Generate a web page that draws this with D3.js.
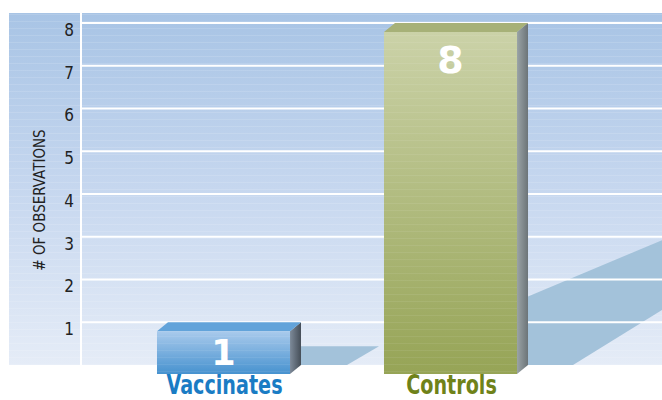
<!DOCTYPE html>
<html>
<head>
<meta charset="utf-8">
<script src="https://cdn.jsdelivr.net/npm/d3@7"></script>
<style>
  html, body { margin: 0; padding: 0; background: #ffffff; }
  svg { display: block; }
</style>
</head>
<body>
<div id="chart"></div>
<script>
// ---- data ----
const categories = ["Vaccinates", "Controls"];
const values = [1, 8];
const yTicks = [1, 2, 3, 4, 5, 6, 7, 8];
const yAxisTitle = "# OF OBSERVATIONS";
const labelColors = ["#1a7cc4", "#6f8219"];
// per-bar gradient colours: [front top, front bottom, top face, side light, side dark]
const barColors = [
  ["#a9caec", "#4792cf", "#62a3da", "#7d8a99", "#454e58"],
  ["#cbd2a8", "#96a456", "#a7b178", "#9aa3a6", "#6c7478"]
];

const W = 662, H = 400;
const panel = { left: 9, strip: 80, plotLeft: 82, right: 662, top: 13, bottom: 365 };
const depth = { dx: 11, dy: 9 };
const condensed = "'DejaVu Sans Condensed', 'Liberation Sans Narrow', 'DejaVu Sans', sans-serif";

const svg = d3.select("#chart").append("svg")
  .attr("width", W).attr("height", H)
  .style("font-family", condensed);

const y = d3.scaleLinear().domain([0, 8]).range([panel.bottom, 23]);
const x = d3.scaleBand().domain(categories).range([110, 564])
  .paddingInner(0.414).paddingOuter(0.207);

const defs = svg.append("defs");
const bg = defs.append("linearGradient").attr("id", "bg")
  .attr("gradientUnits", "userSpaceOnUse")
  .attr("x1", 0).attr("y1", panel.top).attr("x2", 0).attr("y2", panel.bottom);
bg.append("stop").attr("offset", 0).attr("stop-color", "#a8c4e5");
bg.append("stop").attr("offset", 0.5).attr("stop-color", "#c6d7ef");
bg.append("stop").attr("offset", 1).attr("stop-color", "#e5ecf7");

barColors.forEach((c, i) => {
  const f = defs.append("linearGradient").attr("id", "front" + i)
    .attr("x1", 0).attr("y1", 0).attr("x2", 0).attr("y2", 1);
  f.append("stop").attr("offset", 0).attr("stop-color", c[0]);
  f.append("stop").attr("offset", 1).attr("stop-color", c[1]);
  const s = defs.append("linearGradient").attr("id", "side" + i)
    .attr("x1", 0).attr("y1", 0).attr("x2", 1).attr("y2", 0);
  s.append("stop").attr("offset", 0).attr("stop-color", c[3]);
  s.append("stop").attr("offset", 1).attr("stop-color", c[4]);
});

// faint stripe patterns
function stripes(id, op) {
  const pat = defs.append("pattern").attr("id", id)
    .attr("patternUnits", "userSpaceOnUse").attr("width", 8).attr("height", 7);
  pat.append("rect").attr("x", 0).attr("y", 0).attr("width", 8).attr("height", 1)
    .attr("fill", "#ffffff").attr("opacity", op);
}
stripes("stripesBg", 0.12);
stripes("stripesBar", 0.07);

// clip for panel
defs.append("clipPath").attr("id", "panelClip").append("rect")
  .attr("x", panel.plotLeft).attr("y", panel.top)
  .attr("width", panel.right - panel.plotLeft).attr("height", panel.bottom - panel.top);

// background panels
svg.append("rect").attr("x", panel.left).attr("y", panel.top)
  .attr("width", panel.right - panel.left).attr("height", panel.bottom - panel.top)
  .attr("fill", "url(#bg)");
svg.append("rect").attr("x", panel.left).attr("y", panel.top)
  .attr("width", panel.right - panel.left).attr("height", panel.bottom - panel.top)
  .attr("fill", "url(#stripesBg)");
svg.append("rect").attr("x", panel.strip).attr("y", panel.top)
  .attr("width", panel.plotLeft - panel.strip).attr("height", panel.bottom - panel.top)
  .attr("fill", "#ffffff");

// shadows (cast behind bars), shapes given relative to each bar
const y0 = y(0);
const shadowGen = [
  (xr) => [[xr, y(0.44)], [xr + 78, y(0.44)], [xr + 46, y0], [xr, y0]],
  (xr) => [[xr, y(1.6)], [panel.right + 5, y(2.97)], [panel.right + 5, y(1.36)], [xr + 45, y0], [xr, y0]]
];
const sh = svg.append("g").attr("clip-path", "url(#panelClip)");
categories.forEach((c, i) => {
  const xr = x(c) + x.bandwidth() + depth.dx;
  sh.append("polygon")
    .attr("points", shadowGen[i](xr).map(p => p.join(",")).join(" "))
    .attr("fill", "#a3c2da");
});

// gridlines
svg.append("g").selectAll("line").data(yTicks).join("line")
  .attr("x1", panel.plotLeft).attr("x2", panel.right)
  .attr("y1", d => y(d)).attr("y2", d => y(d))
  .attr("stroke", "#ffffff").attr("stroke-width", 2);

// y axis labels
const yAxis = d3.axisLeft(y).tickValues(yTicks).tickSize(0).tickPadding(0);
const ga = svg.append("g").attr("transform", `translate(${panel.strip - 6},7)`).call(yAxis);
ga.select(".domain").remove();
ga.selectAll("text").attr("font-size", 17).attr("fill", "#222222")
  .attr("font-family", condensed);

svg.append("text")
  .attr("transform", `translate(45,200) rotate(-90)`)
  .attr("text-anchor", "middle")
  .attr("font-size", 15).attr("fill", "#222222")
  .text(yAxisTitle);

// bars
const bars = svg.append("g");
categories.forEach((c, i) => {
  const x0 = x(c), x1 = x0 + x.bandwidth();
  const yt = y(values[i]) + depth.dy;       // front top
  const yb = y0 + depth.dy;                 // front bottom
  const g = bars.append("g");
  // side
  g.append("polygon")
    .attr("points", [[x1, yt], [x1 + depth.dx, yt - depth.dy], [x1 + depth.dx, y0], [x1, yb]].map(p => p.join(",")).join(" "))
    .attr("fill", `url(#side${i})`);
  // top
  g.append("polygon")
    .attr("points", [[x0, yt], [x1, yt], [x1 + depth.dx, yt - depth.dy], [x0 + depth.dx, yt - depth.dy]].map(p => p.join(",")).join(" "))
    .attr("fill", barColors[i][2]);
  // front
  g.append("rect").attr("x", x0).attr("y", yt).attr("width", x.bandwidth()).attr("height", yb - yt)
    .attr("fill", `url(#front${i})`);
  g.append("rect").attr("x", x0).attr("y", yt).attr("width", x.bandwidth()).attr("height", yb - yt)
    .attr("fill", "url(#stripesBar)");
  // value label
  const vy = values[i] > 4 ? yt + 41 : yb - 9;
  g.append("text").attr("x", x0 + x.bandwidth() / 2).attr("y", vy)
    .attr("text-anchor", "middle").attr("fill", "#ffffff")
    .attr("font-family", "'DejaVu Sans', sans-serif")
    .attr("font-weight", "bold").attr("font-size", values[i] > 4 ? 38 : 35)
    .text(values[i]);
  // category label (condensed)
  svg.append("text")
    .attr("transform", `translate(${x0 + x.bandwidth() / 2 + 1},393.5) scale(0.82,1)`)
    .attr("text-anchor", "middle").attr("fill", labelColors[i])
    .attr("font-weight", "bold").attr("font-size", 26)
    .text(c);
});
</script>
</body>
</html>
